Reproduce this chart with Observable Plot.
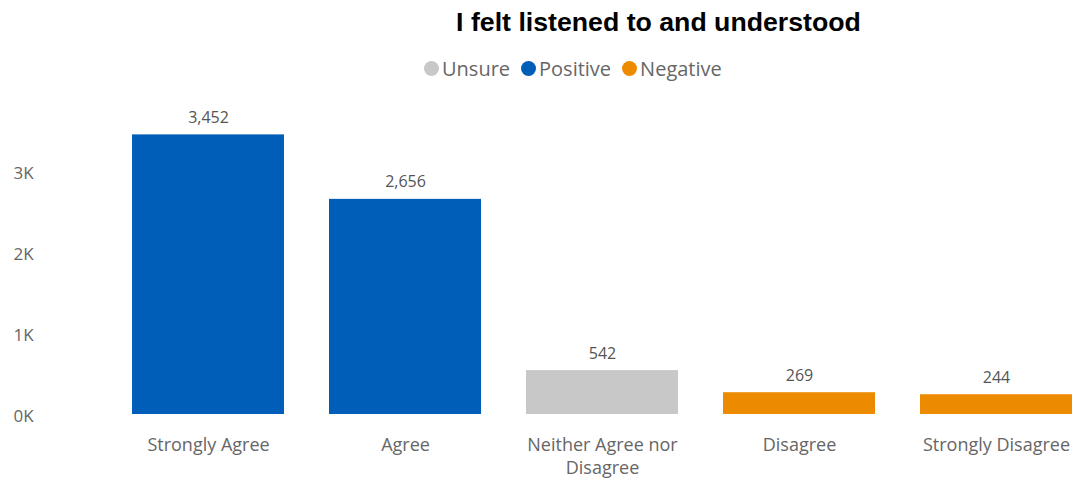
<!DOCTYPE html>
<html>
<head>
<meta charset="utf-8">
<script src="https://cdn.jsdelivr.net/npm/d3@7"></script>
<script src="https://cdn.jsdelivr.net/npm/@observablehq/plot@0.6"></script>
<style>
  html, body { margin: 0; padding: 0; background: #fff; }
  #wrap { width: 1080px; height: 482px; overflow: hidden; }
  #header { position: relative; width: 1080px; height: 90px; }
  #title { position: absolute; left: 658.5px; top: 9.4px; transform: translateX(-50%);
    font: bold 26.7px "Liberation Sans", Arial, sans-serif; line-height: 1; color: #000; white-space: nowrap; }
  #legend { position: absolute; left: 424px; top: 58px; height: 20px; display: flex; align-items: center;
    font: 20px "Open Sans", sans-serif; color: #666; white-space: nowrap; }
  .item { display: flex; align-items: center; margin-right: 11px; }
  .dot { width: 15px; height: 15px; border-radius: 50%; margin-right: 3px; }
  #chart svg { display: block; }
</style>
</head>
<body>
<div id="wrap">
  <div id="header">
    <div id="title"></div>
    <div id="legend"></div>
  </div>
  <div id="chart"></div>
</div>
<script>
const titleText = "I felt listened to and understood";
const categories = ["Strongly Agree", "Agree", "Neither Agree nor Disagree", "Disagree", "Strongly Disagree"];
const tickLabels = ["Strongly Agree", "Agree", "Neither Agree nor\nDisagree", "Disagree", "Strongly Disagree"];
const values = [3452, 2656, 542, 269, 244];
const groups = ["Positive", "Positive", "Unsure", "Negative", "Negative"];
const legendGroups = ["Unsure", "Positive", "Negative"];
const groupColors = ["#C8C8C8", "#005EB8", "#ED8B00"];
const yTicks = [0, 1000, 2000, 3000];

document.getElementById("title").textContent = titleText;
const legend = document.getElementById("legend");
legendGroups.forEach((g, i) => {
  const item = document.createElement("div");
  item.className = "item";
  const dot = document.createElement("div");
  dot.className = "dot";
  dot.style.background = groupColors[i];
  const lab = document.createElement("span");
  lab.textContent = g;
  item.appendChild(dot);
  item.appendChild(lab);
  legend.appendChild(item);
});

const data = categories.map((c, i) => ({cat: c, value: values[i], group: groups[i]}));
const fmt = d3.format(",");

const chart = Plot.plot({
  width: 1080,
  height: 392,
  marginLeft: 131,
  marginRight: 7,
  marginTop: 0,
  marginBottom: 68,
  style: {fontFamily: "'Open Sans', sans-serif", fontSize: "17px", color: "#666", background: "white", overflow: "visible"},
  x: {domain: categories, paddingInner: 0.23, paddingOuter: 0, label: null},
  y: {domain: [0, 4000], label: null},
  color: {domain: legendGroups, range: groupColors},
  marks: [
    Plot.barY(data, {x: "cat", y: "value", fill: "group"}),
    Plot.text(data, {x: "cat", y: "value", text: d => fmt(d.value), dy: -17, fill: "#555", fontSize: 16}),
    Plot.axisX({tickSize: 0, tickPadding: 19, fontSize: 18, lineHeight: 1.33, fill: "#666",
      tickFormat: d => tickLabels[categories.indexOf(d)]}),
    Plot.axisY({ticks: yTicks, tickSize: 0, tickPadding: 118, textAnchor: "start", dy: 2, fontSize: 17, fill: "#666",
      tickFormat: d => (d / 1000) + "K"})
  ]
});
document.getElementById("chart").appendChild(chart);
</script>
</body>
</html>
